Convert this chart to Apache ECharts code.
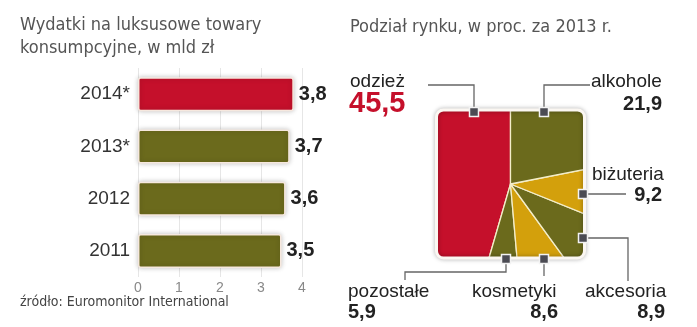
<!DOCTYPE html>
<html>
<head>
<meta charset="utf-8">
<script src="https://cdn.jsdelivr.net/npm/echarts@6/dist/echarts.min.js"></script>
<style>
  html, body { margin: 0; padding: 0; background: #fff; }
  #chart { width: 697px; height: 327px; }
</style>
</head>
<body>
<div id="chart"></div>
<script>
// Spending on luxury consumer goods (bn zł)
const years = ['2014*', '2013*', '2012', '2011'];
const spending = [3.8, 3.7, 3.6, 3.5];

// Market split in 2013 (%)
const segments = ['odzież', 'pozostałe', 'kosmetyki', 'akcesoria', 'biżuteria', 'alkohole'];
const shares = [45.5, 5.9, 8.6, 8.9, 9.2, 21.9];

const RED = '#c5102b';
const OLIVE = '#6b6a1c';
const GOLD = '#d3a00c';
const segmentColors = [RED, OLIVE, GOLD, OLIVE, GOLD, OLIVE];

const NARROW = '"Liberation Sans Narrow", "DejaVu Sans Condensed", "Liberation Sans", sans-serif';
const SANS = '"Liberation Sans", Arial, sans-serif';

const fmt = v => String(v).replace('.', ',');

// pie square geometry
const SQ = { x: 436.5, y: 110, w: 148, h: 148, r: 7 };
const PIE_CENTER = [SQ.x + SQ.w / 2, SQ.y + SQ.h / 2];
const PAD = 40;

// leader lines for each segment label (marker sits at the first point)
const leaders = {
  'odzież':    [[474, 112], [474, 85], [428, 85]],
  'alkohole':  [[544, 112], [544, 85], [590, 85]],
  'biżuteria': [[583, 194], [626, 194]],
  'akcesoria': [[583, 238], [628, 238], [628, 281]],
  'kosmetyki': [[544, 259], [544, 276]],
  'pozostałe': [[506, 259], [506, 272], [405, 272], [405, 280]]
};

// label placement: name position, value position, value alignment
const labelPos = {
  'odzież':    { nx: 350, ny: 82,  vx: 349, vy: 104, align: 'left', big: true },
  'alkohole':  { nx: 591, ny: 82,  vx: 662, vy: 104, align: 'right' },
  'biżuteria': { nx: 592, ny: 175, vx: 662, vy: 195, align: 'right' },
  'akcesoria': { nx: 585, ny: 292, vx: 665, vy: 312, align: 'right' },
  'kosmetyki': { nx: 472, ny: 292, vx: 558, vy: 312, align: 'right' },
  'pozostałe': { nx: 348, ny: 292, vx: 348, vy: 312, align: 'left' }
};

const graphics = [];

// titles and source
graphics.push(
  { type: 'text', left: 20, top: 14, z: 70,
    style: { text: 'Wydatki na luksusowe towary\nkonsumpcyjne, w mld zł', font: '18px ' + NARROW, fill: '#555', lineHeight: 23 } },
  { type: 'text', left: 350, top: 18, z: 70,
    style: { text: 'Podział rynku, w proc. za 2013 r.', font: '18px ' + NARROW, fill: '#555' } },
  { type: 'text', left: 20, top: 295, z: 70,
    style: { text: 'źródło: Euromonitor International', font: '14px ' + NARROW, fill: '#444' } }
);

// white mask turning the pie into a rounded square
graphics.push({
  type: 'rect', z: 50, silent: true,
  shape: { x: SQ.x - PAD, y: SQ.y - PAD, width: SQ.w + 2 * PAD, height: SQ.h + 2 * PAD, r: SQ.r + PAD },
  style: { fill: null, stroke: '#fff', lineWidth: 2 * PAD }
});
// frame of the square
graphics.push({
  type: 'rect', z: 51, silent: true,
  shape: { x: SQ.x, y: SQ.y, width: SQ.w, height: SQ.h, r: SQ.r },
  style: { fill: null, stroke: '#fbf7f2', lineWidth: 3, shadowBlur: 4, shadowColor: 'rgba(0,0,0,0.35)' }
});

segments.forEach((name, i) => {
  const pts = leaders[name];
  const lp = labelPos[name];
  graphics.push({
    type: 'polyline', z: 60, silent: true,
    shape: { points: pts },
    style: { stroke: '#666', lineWidth: 1.3, fill: null }
  });
  graphics.push({
    type: 'rect', z: 61, silent: true,
    shape: { x: pts[0][0] - 4.5, y: pts[0][1] - 4.5, width: 9, height: 9 },
    style: { fill: '#4b4b53', stroke: '#f2f2f2', lineWidth: 1.5 }
  });
  graphics.push({
    type: 'text', z: 62, x: lp.nx, y: lp.ny,
    style: { text: name, font: '19px ' + SANS, fill: '#222', textVerticalAlign: 'middle', textAlign: 'left' }
  });
  graphics.push({
    type: 'text', z: 62, x: lp.vx, y: lp.vy,
    style: {
      text: fmt(shares[i]),
      font: lp.big ? 'bold 29px ' + SANS : 'bold 20px ' + SANS,
      fill: lp.big ? RED : '#222',
      textVerticalAlign: 'middle', textAlign: lp.align
    }
  });
});

const chart = echarts.init(document.getElementById('chart'), null, { renderer: 'canvas' });

chart.setOption({
  animation: false,
  backgroundColor: '#fff',
  grid: { left: 138, top: 68, width: 164, height: 209, containLabel: false },
  xAxis: {
    type: 'value', min: 0, max: 4, interval: 1,
    axisLine: { show: false }, axisTick: { show: false },
    splitLine: { show: true, lineStyle: { color: '#e6e6e6', width: 1 } },
    axisLabel: { color: '#888', fontSize: 14, fontFamily: SANS, margin: 4 }
  },
  yAxis: {
    type: 'category', data: years, inverse: true,
    axisLine: { show: false }, axisTick: { show: false },
    axisLabel: { color: '#333', fontSize: 19, fontFamily: SANS, margin: 8 }
  },
  series: [
    {
      type: 'bar',
      data: spending,
      barWidth: 34,
      itemStyle: {
        color: p => (p.dataIndex === 0 ? RED : OLIVE),
        borderColor: '#f6e8de', borderWidth: 1.5, borderRadius: 2,
        shadowBlur: 5, shadowColor: 'rgba(0,0,0,0.22)'
      },
      label: {
        show: true, position: 'right', distance: 5,
        formatter: p => fmt(p.value),
        color: '#222', fontSize: 20, fontWeight: 'bold', fontFamily: SANS
      },
      emphasis: { disabled: true }
    },
    {
      type: 'pie',
      center: PIE_CENTER,
      radius: 112,
      startAngle: 90,
      clockwise: false,
      z: 2,
      label: { show: false },
      labelLine: { show: false },
      emphasis: { disabled: true },
      itemStyle: { borderColor: '#f3edc9', borderWidth: 1.3 },
      data: segments.map((n, i) => ({ name: n, value: shares[i], itemStyle: { color: segmentColors[i] } }))
    }
  ],
  graphic: { elements: graphics }
});
</script>
</body>
</html>
